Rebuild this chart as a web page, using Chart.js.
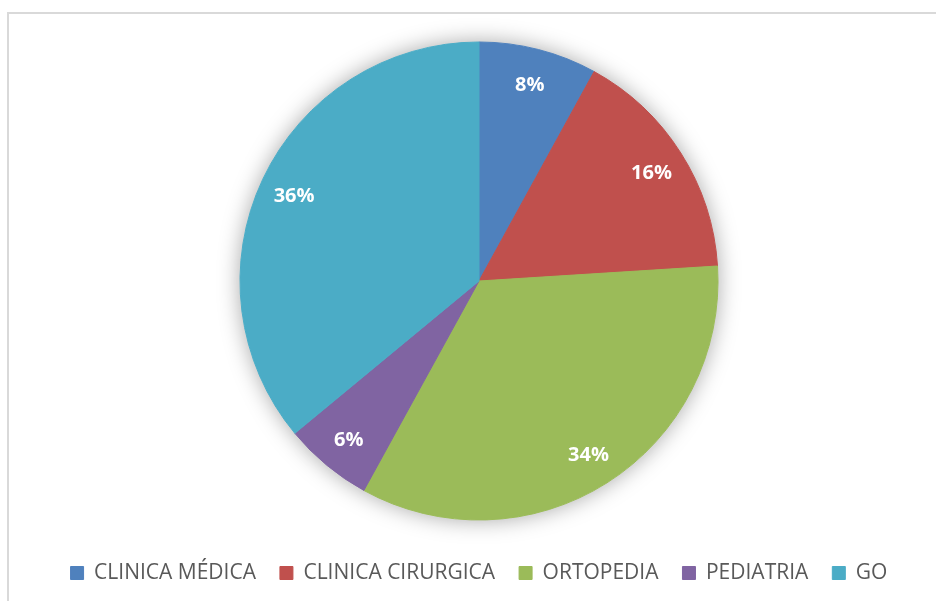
<!DOCTYPE html>
<html>
<head>
<meta charset="utf-8">
<script src="https://cdn.jsdelivr.net/npm/chart.js@4.4.0/dist/chart.umd.min.js"></script>
<style>
    html, body { margin: 0; padding: 0; background: #fff; overflow: hidden; }
    #wrap { position: relative; width: 936px; height: 601px; }
    #frame { position: absolute; left: 7px; top: 12px; width: 1000px; height: 700px; border: 2px solid #d9d9d9; }
    #myChart { position: absolute; left: 0; top: 0; }
</style>
</head>
<body>
<div id="wrap">
    <div id="frame"></div>
    <canvas id="myChart" width="936" height="601"></canvas>
</div>
<script>
// 데이터
var categories = ["CLINICA MÉDICA", "CLINICA CIRURGICA", "ORTOPEDIA", "PEDIATRIA", "GO"];
var percents = [8, 16, 34, 6, 36];
var colors = ["#4f81bd", "#c0504d", "#9bbb59", "#8064a2", "#4bacc6"];

// 파이 뒤 그림자
var pieShadow = {
    id: "pieShadow",
    beforeDatasetsDraw: function (chart) {
        var arc = chart.getDatasetMeta(0).data[0];
        if (!arc) return;
        var ctx = chart.ctx;
        ctx.save();
        ctx.beginPath();
        ctx.arc(arc.x, arc.y, arc.outerRadius, 0, Math.PI * 2);
        ctx.shadowColor = "rgba(0,0,0,0.35)";
        ctx.shadowBlur = 22;
        ctx.fillStyle = "#fff";
        ctx.fill();
        ctx.restore();
    }
};

// 조각 안의 % 라벨
var sliceLabels = {
    id: "sliceLabels",
    afterDatasetsDraw: function (chart) {
        var ctx = chart.ctx;
        var meta = chart.getDatasetMeta(0);
        ctx.save();
        ctx.font = "bold 20px 'Open Sans'";
        ctx.fillStyle = "#ffffff";
        ctx.textAlign = "center";
        ctx.textBaseline = "middle";
        meta.data.forEach(function (arc, i) {
            var mid = (arc.startAngle + arc.endAngle) / 2;
            var r = arc.outerRadius * 0.855;
            ctx.fillText(percents[i] + "%", arc.x + Math.cos(mid) * r, arc.y + Math.sin(mid) * r + 2);
        });
        ctx.restore();
    }
};

new Chart(document.getElementById("myChart").getContext("2d"), {
    type: "pie",
    data: {
        labels: categories,
        datasets: [{
            data: percents,
            backgroundColor: colors,
            borderColor: colors,
            borderWidth: 1,
            radius: 239
        }]
    },
    options: {
        responsive: false,
        animation: false,
        layout: { padding: { top: 23.5, left: 22, right: 0, bottom: 7.5 } },
        plugins: {
            tooltip: { enabled: false },
            legend: {
                position: "bottom",
                labels: {
                    boxWidth: 13,
                    boxHeight: 13,
                    padding: 24,
                    color: "#595959",
                    font: { family: "'Open Sans'", size: 21 }
                }
            }
        }
    },
    plugins: [pieShadow, sliceLabels]
});
</script>
</body>
</html>
